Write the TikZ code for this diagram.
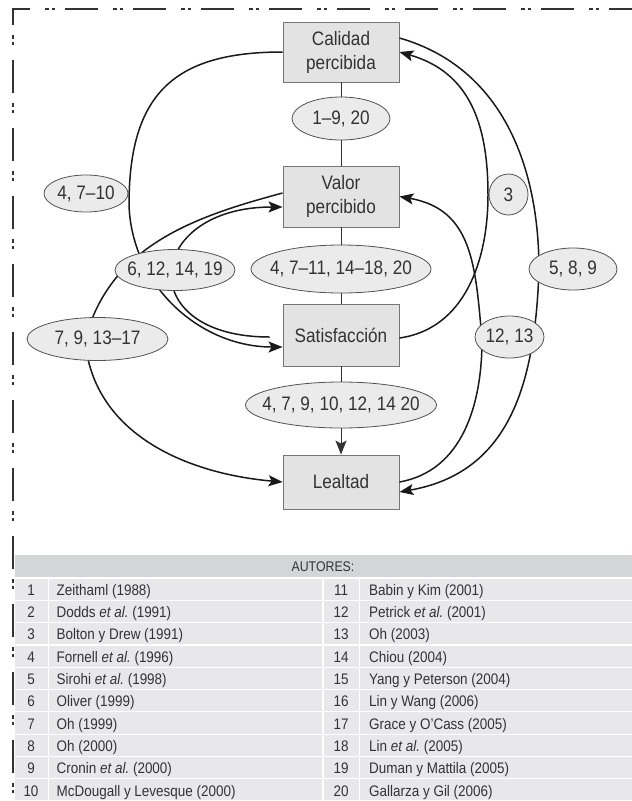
\documentclass[tikz,border=0pt]{standalone}
\usepackage{fontspec}
\setmainfont{Liberation Sans}[FakeStretch=0.88]
\usetikzlibrary{shapes.geometric,arrows.meta}
\definecolor{tinta}{HTML}{333333}
\definecolor{cajagris}{HTML}{E3E3E4}
\definecolor{bordecaja}{HTML}{767676}
\definecolor{elipsegris}{HTML}{EBEBEC}
\definecolor{cabecera}{HTML}{D4D5D7}
\definecolor{filagris}{HTML}{E8E8EA}
\tikzset{
 caja/.style={draw=bordecaja,fill=cajagris,line width=0.9pt,minimum width=116pt,inner sep=0pt,align=center,text=tinta,font=\fontsize{19.5}{24}\selectfont},
 cita/.style 2 args={ellipse,draw=tinta!85,fill=elipsegris,line width=0.8pt,minimum width=#1,minimum height=#2,inner sep=0pt,text=tinta,font=\fontsize{19.5}{24}\selectfont},
 flecha/.style={line width=1.5pt,draw=black!90,-{Stealth[length=14pt,width=11pt,inset=3pt]}},
 recta/.style={line width=0.9pt,draw=tinta},
 dato/.style={inner sep=0pt,text=tinta,font=\fontsize{15.3}{18}\selectfont}
}

\begin{document}
\begin{tikzpicture}[x=1pt,y=-1pt]
\useasboundingbox (0,0) rectangle (632,801);
\node[caja,minimum height=60pt] (cal) at (341,52) {Calidad\\percibida};
\node[caja,minimum height=61pt] (val) at (341,196.5) {Valor\\percibido};
\node[caja,minimum height=62pt] (sat) at (341,335) {Satisfacción};
\node[caja,minimum height=54pt] (lea) at (341,482) {Lealtad};
\draw[flecha] (cal.west) to[out=180,in=90,looseness=1.3] (129,205) to[out=-88,in=180] ([yshift=-12pt]sat.west);
\draw[flecha] ([xshift=-13pt,yshift=-2pt]sat.west) to[out=180,in=180,looseness=2.7] ([yshift=-10.5pt]val.west);
\draw[flecha] ([yshift=3.5pt]val.west) to[out=195,in=75] (85,340) to[out=-85,in=175] (lea.west);
\draw[flecha] ([yshift=14pt]cal.east) to[out=-16,in=90] (539,270) to[out=-92,in=10,looseness=1.1] ([yshift=-10pt]lea.east);
\draw[flecha] ([yshift=-3pt]sat.east) to[out=8,in=-90] (488,195) to[out=90,in=-16,looseness=1.1] (cal.east);
\draw[flecha] (lea.east) to[out=10,in=-90] (482,340) to[out=95,in=-10,looseness=1.15] (val.east);
\node[cita={98pt}{43pt}] (e1) at (341,118.5) {\makebox[0pt]{1--9, 20}};
\node[cita={180pt}{48pt}] (e2) at (341,269) {\makebox[0pt]{4, 7--11, 14--18, 20}};
\node[cita={191pt}{46pt}] (e3) at (341,405) {\makebox[0pt]{4, 7, 9, 10, 12, 14 20}};
\node[cita={84pt}{37pt}] (e4) at (86,193.5) {\makebox[0pt]{4, 7--10}};
\node[cita={39pt}{41pt}] (e5) at (508.5,194.5) {\makebox[0pt]{3}};
\node[cita={120pt}{41pt}] (e6) at (175,270) {\makebox[0pt]{6, 12, 14, 19}};
\node[cita={88pt}{42pt}] (e7) at (573,269) {\makebox[0pt]{5, 8, 9}};
\node[cita={141pt}{43pt}] (e8) at (97.5,339) {\makebox[0pt]{7, 9, 13--17}};
\node[cita={69pt}{42pt}] (e9) at (509.5,337) {\makebox[0pt]{12, 13}};
\draw[recta] (cal) -- (e1) (e1) -- (val);
\draw[recta] (val) -- (e2) (e2) -- (sat);
\draw[recta] (sat) -- (e3);
\draw[recta,-{Stealth[length=14pt,width=11pt,inset=3pt]}] (e3) -- (lea);
\fill[cabecera] (14.5,555) rectangle (632,577.4);
\node[dato,font=\fontsize{14}{17}\selectfont] (aut) at (323,566.5) {AUTORES:};
\foreach \i/\a/\b in {1/Zeithaml (1988)/Babin y Kim (2001),
 2/Dodds \textit{et al.}\ (1991)/Petrick \textit{et al.}\ (2001),
 3/Bolton y Drew (1991)/Oh (2003),
 4/Fornell \textit{et al.}\ (1996)/Chiou (2004),
 5/Sirohi \textit{et al.}\ (1998)/Yang y Peterson (2004),
 6/Oliver (1999)/Lin y Wang (2006),
 7/Oh (1999)/Grace y O'Cass (2005),
 8/Oh (2000)/Lin \textit{et al.}\ (2005),
 9/Cronin \textit{et al.}\ (2000)/Duman y Mattila (2005),
 10/McDougall y Levesque (2000)/Gallarza y Gil (2006)}{
 \pgfmathsetmacro\yy{578+(\i-1)*22.3}
 \pgfmathtruncatemacro\j{\i+10}
 \fill[filagris] (14.5,\yy+0.6) rectangle (47.5,\yy+21.7);
 \fill[filagris] (48.8,\yy+0.6) rectangle (322,\yy+21.7);
 \fill[filagris] (323.5,\yy+0.6) rectangle (359,\yy+21.7);
 \fill[filagris] (360.3,\yy+0.6) rectangle (632,\yy+21.7);
 \node[dato,anchor=base] (n\i) at (31,\yy+17.3) {\i};
 \node[dato,anchor=base west] (a\i) at (56.5,\yy+17.3) {\a};
 \node[dato,anchor=base] (m\i) at (341,\yy+17.3) {\j};
 \node[dato,anchor=base west] (b\i) at (369,\yy+17.3) {\b};}
\draw[line width=1.3pt,tinta,dash pattern=on 33pt off 15pt on 3.5pt off 3pt on 3.5pt off 10pt,dash phase=40pt] (13,801) -- (13,9) -- (632,9);
\end{tikzpicture}
\end{document}
